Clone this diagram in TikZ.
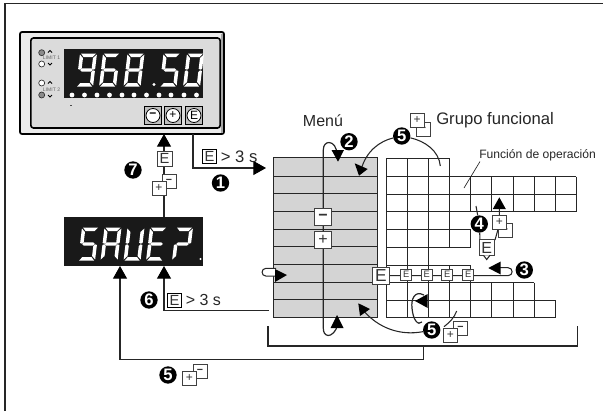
\documentclass[tikz,border=0pt]{standalone}
\usepackage{fontspec}
\setmainfont{Liberation Sans}
\usetikzlibrary{arrows.meta,calc}
\tikzset{
  conn/.style={draw=black!85,line width=.8pt},
  bigtip/.style={-{Triangle[length=9.5pt,width=10.5pt,black]}},
  gridline/.style={draw=black!85,line width=.75pt},
  kbox/.style={draw=black!75,fill=white,line width=.6pt,inner sep=0pt,minimum width=#1*.75pt,minimum height=#1*.75pt,text=black!80},
  kbox/.default=14,
  bullet/.style={circle,fill=black,text=white,inner sep=0pt,minimum size=13pt,font=\bfseries\fontsize{12.5}{12.5}\selectfont},
  panelkey/.style={draw=black,fill=black!25,line width=.6pt,inner sep=0pt,minimum width=13pt,minimum height=13pt},
  keycap/.style={circle,draw=black,fill=white,line width=.6pt,inner sep=0pt,minimum size=10.5pt,font=\fontsize{9}{9}\selectfont},
  led/.style={circle,draw=black!80,line width=.5pt,inner sep=0pt,minimum size=4.5pt},
  labeltxt/.style={inner sep=0pt,text=black!85},
}
\def\sega{\fill[white] (1,0)--(16,0)--(13,3.5)--(4,3.5)--cycle;}
\def\segb{\fill[white] (17,1)--(17,15.5)--(15,16.2)--(13.5,15)--(13.5,4.5)--cycle;}
\def\segc{\fill[white] (17,17.5)--(17,32)--(13.5,28.5)--(13.5,18.5)--(15,16.8)--cycle;}
\def\segd{\fill[white] (1,33)--(16,33)--(13,29.5)--(4,29.5)--cycle;}
\def\sege{\fill[white] (0,17.5)--(0,32)--(3.5,28.5)--(3.5,18.5)--(2,16.8)--cycle;}
\def\segf{\fill[white] (0,1)--(0,15.5)--(2,16.2)--(3.5,15)--(3.5,4.5)--cycle;}
\def\segg{\fill[white] (2.2,16.5)--(4,14.8)--(13,14.8)--(14.8,16.5)--(13,18.2)--(4,18.2)--cycle;}
\newcommand{\sevenseg}[3]{\begin{scope}[shift={(#1,#2)},xslant=.12]
  \foreach \sname in {#3}{\csname seg\sname\endcsname}
\end{scope}}
\begin{document}
\begin{tikzpicture}[x=.75pt,y=-.75pt]
\useasboundingbox (0,0) rectangle (603,411);
% frame
\draw[black!85,line width=.9pt] (5,411)--(5,3.5)--(603,3.5);
% meter
\node[draw=black,fill=black!8,line width=1.3pt,rounded corners=1.5pt,minimum width=153pt,minimum height=76.5pt,inner sep=0pt] (meter) at (122,83) {};
\fill[black!35] (221,34)--(223,34)--(223,133)--(221,133)--cycle;
\node[draw=black,fill=black!14,line width=1.2pt,rounded corners=2pt,minimum width=142pt,minimum height=67.5pt,inner sep=0pt] (panel) at (125.5,83) {};
\node[fill=black!90,minimum width=104.2pt,minimum height=36.7pt,inner sep=0pt] (disp) at (133.5,73.5) {};
\sevenseg{80}{53.5}{a,b,c,d,f,g}
\sevenseg{103}{53.5}{a,c,d,e,f,g}
\sevenseg{127.5}{53.5}{a,b,c,d,e,f,g}
\sevenseg{163.5}{53.5}{a,c,d,f,g}
\sevenseg{187}{53.5}{a,b,c,d,e,f}
\fill[white] (154,84.5) circle (1.7);
\foreach \dx in {72,84.5,97,109.5,122,134,146.5,159,171,184,196.5}
  \fill[white] (\dx,95) circle (2.4);
% LEDs
\node[led,fill=black!45] (l1) at (41.7,52.7) {};
\node[led,fill=white] (l2) at (41.7,64) {};
\node[led,fill=white] (l3) at (41.7,83) {};
\node[led,fill=black!45] (l4) at (41.7,95) {};
\foreach \ly in {51,82}
  \draw[black,line width=.7pt] (48,\ly+1.5)--(50,\ly-.5)--(52,\ly+1.5);
\foreach \ly in {63,95}
  \draw[black,line width=.7pt] (48,\ly)--(50,\ly+2)--(52,\ly);
\node[labeltxt,text=black!60,font=\fontsize{3.8}{4}\selectfont] (lim1) at (51.5,58) {LIMIT 1};
\node[labeltxt,text=black!60,font=\fontsize{3.8}{4}\selectfont] (lim2) at (51.5,90) {LIMIT 2};
\fill[black!70] (70,105) rectangle (72,106);
% panel keys
\node[panelkey] (kminus) at (153,115.5) {};
\node[keycap] (kcm) at (153,115.5) {\textbf{−}};
\node[panelkey] (kplus) at (173,115.5) {};
\node[keycap] (kcp) at (173,115.5) {+};
\node[panelkey] (kenter) at (194,115.5) {};
\node[keycap] (kce) at (194,115.5) {E};
% SAVE display
\node[fill=black!90,minimum width=104pt,minimum height=36.5pt,inner sep=0pt] (save) at (133.2,241.3) {};
\sevenseg{82}{227.5}{a,c,d,f,g}
\sevenseg{104.5}{227.5}{a,b,c,e,f,g}
\sevenseg{127.5}{227.5}{b,c,d,e,f}
\sevenseg{150}{227.5}{a,d,e,f,g}
\sevenseg{176}{227.5}{a,b,e,g}
\fill[white] (200.5,259) circle (1.2);
% menu
\node[fill=black!17,draw=black!85,line width=.75pt,minimum width=78pt,minimum height=119.3pt,inner sep=0pt] (menu) at (325,237.5) {};
\foreach \my in {176,193.5,211,229,246.5,264,282,299.5}
  \draw[gridline] (273,\my)--(377,\my);
% grid
\foreach \gy/\ga/\gb in {158/386/449.5,176.5/386/576,194/386/576,211.6/386/576,229.3/386/470.7,247/386/470.7,265/386/470.7,282.7/386/534,300/386/555,317.5/386/555}
  \draw[gridline] (\ga,\gy)--(\gb,\gy);
\foreach \gx/\ga/\gb in {386/158/317.5,407.3/158/317.5,428.3/158/317.5,449.5/158/247,449.5/265/317.5,470.7/176.5/211.6,470.7/229.3/247,470.7/265/317.5,491.7/176.5/211.6,491.7/282.7/317.5,513/176.5/211.6,513/282.7/317.5,534/176.5/211.6,534/282.7/317.5,555/176.5/211.6,555/300/317.5,576/176.5/211.6}
  \draw[gridline] (\gx,\ga)--(\gx,\gb);
% named free ends
\coordinate (a1s) at (193,134);
\coordinate (a1c) at (193,168);
\coordinate (a1t) at (266,168);
\coordinate (a6s) at (269,310.7);
\coordinate (a6c) at (164,310.7);
\coordinate (a6t) at (164,266);
\coordinate (a7s) at (164,217);
\coordinate (a7t) at (164,134);
\coordinate (brl) at (268,326);
\coordinate (brla) at (268,346);
\coordinate (brr) at (577.7,326);
\coordinate (brra) at (577.7,346);
\coordinate (st) at (423.3,346);
\coordinate (stb) at (423.3,359.5);
\coordinate (stc) at (120,359.5);
\coordinate (a5t) at (120,266);
% main connectors
\draw[conn,bigtip] (a7s)--(a7t);
\draw[conn,bigtip] (a1s)--(a1c)--(a1t);
\draw[conn,bigtip] (a6s)--(a6c)--(a6t);
\draw[conn,line width=1pt] (brl)--(brla)--(brra)--(brr);
\draw[conn,bigtip] (st)--(stb)--(stc)--(a5t);
% menu vertical with loops
\coordinate (lp2) at (337,155);
\draw[conn,line width=.9pt] (337,325)
  .. controls (337,331) and (331,336) .. (328,335.5)
  .. controls (324.5,335) and (323.3,332) .. (323.3,328)
  -- (323.3,150)
  .. controls (323.3,145) and (326,142.5) .. (329,142.5)
  .. controls (333,142.5) and (337,147) .. (lp2);
\fill[black] (337,315)--(330.5,328)--(343.5,328)--cycle;
\fill[black] (338,161.7)--(331.5,150)--(344,150)--cycle;
% left entry loop
\coordinate (ln) at (287,275);
\draw[conn,fill=white] (276,268.3)--(266,268.3) .. controls (260.8,268.3) and (260.8,276.1) .. (266,276.1)--(276,276.1);
\fill[black] (287,275)--(275,269)--(275,282)--cycle;
% top 5
\node[bullet] (b5a) at (401.7,136) {5};
\coordinate (t5a) at (359,175.7);
\coordinate (t5b) at (440.3,166);
\draw[conn] (b5a) .. controls (380,141) and (366,151) .. (361,170);
\fill[black] (t5a)--(354.7,163.3)--(367.7,169)--cycle;
\draw[conn] (b5a) .. controls (425,141) and (439,151) .. (t5b);
% bottom 5
\node[bullet] (b5b) at (431.7,330) {5};
\coordinate (t5c) at (358.3,303.3);
\coordinate (t5d) at (456.7,311);
\draw[conn] (b5b) .. controls (400,336) and (378,328) .. (363,310);
\fill[black] (t5c)--(360,316)--(370,309)--cycle;
\draw[conn] (444,326.7) .. controls (450,322) and (454,318) .. (t5d);
% lower loop
\draw[conn,line width=.9pt] (424,295) .. controls (414,290) and (411,300) .. (412,308) .. controls (413,320) and (418,326) .. (422,322);
\fill[black] (415,301)--(427.7,294)--(427.7,308)--cycle;
% row E chain
\coordinate (a3t) at (488.3,268);
\draw[conn] (381,275.7)--(508,275.7) .. controls (513.5,275.7) and (513.5,267.7) .. (508,267.7)--(500,267.7);
\fill[black] (a3t)--(500.7,261.5)--(500.7,274.5)--cycle;
\node[bullet] (b3) at (524.3,270) {3};
\node[kbox=11,font=\fontsize{7}{7}\selectfont] (e1) at (406.3,274.5) {E};
\node[kbox=11,font=\fontsize{7}{7}\selectfont] (e2) at (426.7,274.5) {E};
\node[kbox=11,font=\fontsize{7}{7}\selectfont] (e3) at (447.3,274.5) {E};
\node[kbox=11,font=\fontsize{7}{7}\selectfont] (e4) at (468.3,274.5) {E};
\node[kbox=16.5,line width=.9pt,font=\fontsize{13}{13}\selectfont] (e0) at (381,276) {E};
% 4 path
\node[bullet] (b4) at (479.3,224) {4};
\coordinate (l4s) at (476,206);
\draw[conn] (l4s)--(b4);
\draw[conn] (b4)--(480,240);
\coordinate (a4t) at (499.3,197.3);
\draw[conn] (495,240)--(499.3,225)--(499.3,205);
\fill[black] (a4t)--(492.8,209)--(505.8,209)--cycle;
\node[kbox=15.5,font=\fontsize{12}{12}\selectfont] (e5) at (486.7,247.5) {E};
\draw[conn,fill=white] (483.5,255.3)--(486.7,259.5)--(490,255.3);
\node[kbox=14,font=\fontsize{7}{7}\selectfont] (m4) at (505.3,230.5) {\textbf{−}};
\node[kbox=14,font=\fontsize{9}{9}\selectfont] (p4) at (499.3,222.3) {+};
% boxes on arrows
\node[kbox=15,font=\fontsize{11}{11}\selectfont] (e7) at (164.5,158.5) {E};
\node[kbox=14,font=\fontsize{8}{8}\selectfont] (m7) at (169,181.5) {\textbf{−}};
\node[kbox=14,font=\fontsize{9}{9}\selectfont] (p7) at (159,188) {+};
\node[bullet] (b7) at (133,170) {7};
\node[bullet] (b1) at (220.5,183) {1};
\node[kbox=14,font=\fontsize{11}{11}\selectfont,draw=black] (e1a) at (209.5,156.5) {E};
\node[labeltxt,anchor=west,font=\fontsize{12.5}{12.5}\selectfont] (t1) at (220.5,157) {> 3 s};
\node[bullet] (b6) at (149,300) {6};
\node[kbox=14,font=\fontsize{11}{11}\selectfont,draw=black] (e6) at (174.5,300) {E};
\node[labeltxt,anchor=west,font=\fontsize{12}{12}\selectfont] (t6) at (185.5,300) {> 3 s};
\node[bullet] (b5c) at (168,375) {5};
\node[kbox=14,font=\fontsize{8}{8}\selectfont] (m5c) at (200,371.5) {\textbf{−}};
\node[kbox=14,font=\fontsize{9}{9}\selectfont] (p5c) at (189.5,378) {+};
\node[kbox=14,font=\fontsize{8}{8}\selectfont] (m5a) at (423,129) {\textbf{−}};
\node[kbox=14,font=\fontsize{9}{9}\selectfont] (p5a) at (417,120) {+};
\node[kbox=14,font=\fontsize{8}{8}\selectfont] (m5b) at (460.5,328.5) {\textbf{−}};
\node[kbox=14,font=\fontsize{9}{9}\selectfont] (p5b) at (450.3,335) {+};
\node[bullet] (b2) at (349,141.7) {2};
\node[kbox=17,line width=.9pt,font=\fontsize{12}{12}\selectfont] (mm) at (323,217) {\textbf{−}};
\node[kbox=17,line width=.9pt,font=\fontsize{12}{12}\selectfont] (mp) at (323,240) {+};
% labels
\node[labeltxt,font=\fontsize{12}{12}\selectfont] (tm) at (323,120.5) {Menú};
\node[labeltxt,anchor=west,font=\fontsize{12.5}{12.5}\selectfont] (tg) at (436,120.5) {Grupo funcional};
\node[labeltxt,anchor=west,font=\fontsize{9.1}{9.1}\selectfont] (tf) at (479,155) {Función de operación};
\coordinate (lf) at (464,188);
\draw[black!85,line width=.5pt] (480,161.5)--(lf);
\end{tikzpicture}
\end{document}
